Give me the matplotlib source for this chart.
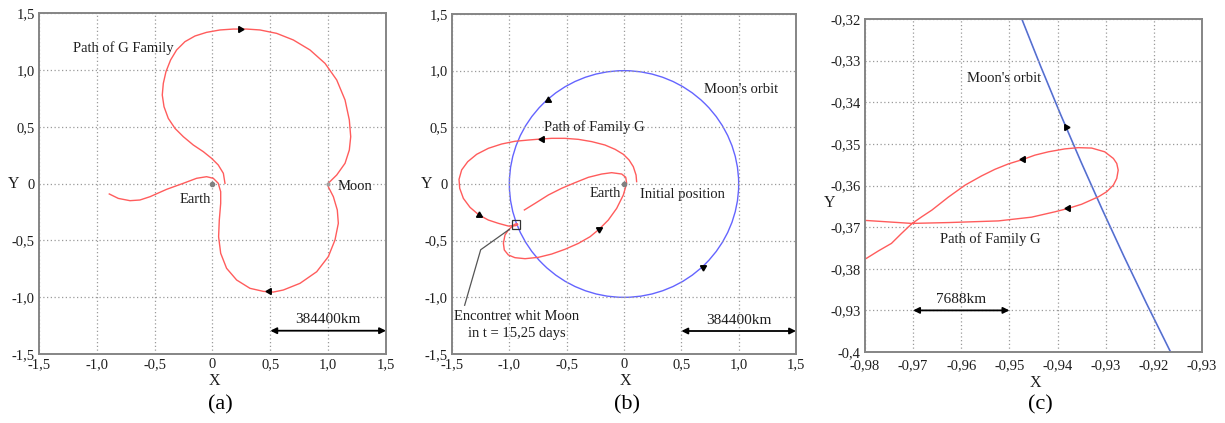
import matplotlib
matplotlib.use("Agg")
import matplotlib.pyplot as plt
from matplotlib.patches import Circle, Rectangle

plt.rcParams["font.family"] = ["Liberation Serif", "DejaVu Serif"]

# ---------------- data ----------------
# (a) path of the G family, normalised Earth-Moon units
path_a_x = [0.108, 0.094, 0.050, -0.007, -0.079, -0.166, -0.252, -0.324, -0.382, -0.419,
            -0.434, -0.425, -0.402, -0.362, -0.310, -0.238, -0.151, -0.051, 0.065, 0.180,
            0.295, 0.411, 0.555, 0.699, 0.843, 0.973, 1.074, 1.146, 1.183, 1.195,
            1.183, 1.146, 1.074, 1.001, 1.001, 1.045, 1.079, 1.088, 1.059, 1.001,
            0.901, 0.757, 0.612, 0.526, 0.440, 0.324, 0.209, 0.122, 0.071, 0.053,
            0.059, 0.071, 0.071, 0.050, 0.007, -0.051, -0.137, -0.252, -0.396, -0.540,
            -0.627, -0.713, -0.814, -0.892]
path_a_y = [0.002, 0.090, 0.163, 0.221, 0.280, 0.339, 0.412, 0.485, 0.573, 0.676,
            0.779, 0.881, 0.984, 1.087, 1.175, 1.248, 1.298, 1.330, 1.351, 1.359,
            1.359, 1.351, 1.321, 1.263, 1.175, 1.057, 0.911, 0.735, 0.559, 0.412,
            0.295, 0.178, 0.075, 0.002, -0.028, -0.116, -0.233, -0.350, -0.497, -0.644,
            -0.776, -0.878, -0.937, -0.955, -0.949, -0.922, -0.849, -0.746, -0.614, -0.468,
            -0.321, -0.175, -0.072, 0.002, 0.046, 0.060, 0.046, 0.002, -0.051, -0.116,
            -0.145, -0.151, -0.131, -0.092]
arrows_a = [(0.24, 1.36, 0), (0.49, -0.946, 180)]

# close approach with the Moon (detail of the encounter, panel c)
enc_x = [-0.9797, -0.9703, -0.9627, -0.9523, -0.9454, -0.9405, -0.9378, -0.9350, -0.9315,
         -0.9298, -0.9284, -0.9277, -0.9274, -0.9277, -0.9284, -0.9302, -0.9329, -0.9357,
         -0.9385, -0.9419, -0.9447, -0.9471, -0.9502, -0.9530, -0.9558, -0.9592, -0.9627,
         -0.9661, -0.9682, -0.9703, -0.9724, -0.9745, -0.9772, -0.9797]
enc_y = [-0.3684, -0.3691, -0.3689, -0.3685, -0.3676, -0.3663, -0.3655, -0.3645, -0.3627,
         -0.3615, -0.3599, -0.3583, -0.3563, -0.3547, -0.3535, -0.3519, -0.3510, -0.3509,
         -0.3512, -0.3519, -0.3527, -0.3537, -0.3548, -0.3561, -0.3577, -0.3599, -0.3628,
         -0.3659, -0.3675, -0.3692, -0.3715, -0.3739, -0.3757, -0.3775]

# (b) outer loop from the initial position up to the encounter
outer_x = [0.110, 0.105, 0.081, 0.044, -0.006, -0.078, -0.166, -0.282, -0.398, -0.515,
           -0.631, -0.724, -0.834, -0.951, -1.067, -1.183, -1.285, -1.363, -1.416, -1.439,
           -1.433, -1.401, -1.343, -1.264, -1.183, -1.096, -1.009]
outer_y = [0.021, 0.079, 0.153, 0.212, 0.262, 0.306, 0.344, 0.374, 0.394, 0.403,
           0.403, 0.397, 0.388, 0.377, 0.353, 0.315, 0.262, 0.197, 0.124, 0.041,
           -0.038, -0.127, -0.206, -0.274, -0.318, -0.347, -0.371]
# (b) inner loop after the encounter
inner_x = [-1.009, -1.038, -1.052, -1.044, -1.009, -0.951, -0.863, -0.747, -0.631, -0.515,
           -0.398, -0.296, -0.218, -0.137, -0.064, -0.006, 0.023, 0.015, -0.020, -0.108,
           -0.195, -0.311, -0.427, -0.544, -0.660, -0.776, -0.869]
inner_y = [-0.406, -0.450, -0.523, -0.582, -0.626, -0.650, -0.659, -0.647, -0.618, -0.576,
           -0.524, -0.465, -0.400, -0.318, -0.215, -0.097, 0.006, 0.059, 0.088, 0.100,
           0.088, 0.059, 0.012, -0.038, -0.097, -0.171, -0.229]
arrows_b_path = [(-0.714, 0.397, 180), (-1.265, -0.274, 90), (-0.218, -0.40, 270)]
arrows_b_orbit = [(-0.666, 0.741, 90), (0.686, -0.73, 270)]
arrows_c_path = [(-0.9471, -0.3537, 180), (-0.9378, -0.3655, 180)]
arrows_c_orbit = [(-0.9383, -0.3459, 240)]

moon_orbit_radius = 1.0
zoom_box = (-0.98, -0.40, 0.07, 0.08)   # x0, y0, width, height of panel (c)

ticks_ab = [-1.5, -1.0, -0.5, 0.0, 0.5, 1.0, 1.5]
tick_labels_ab = ["-1,5", "-1,0", "-0,5", "0", "0,5", "1,0", "1,5"]
xticks_c = [-0.98, -0.97, -0.96, -0.95, -0.94, -0.93, -0.92, -0.91]
xtick_labels_c = ["-0,98", "-0,97", "-0,96", "-0,95", "-0,94", "-0,93", "-0,92", "-0,93"]
yticks_c = [-0.32, -0.33, -0.34, -0.35, -0.36, -0.37, -0.38, -0.39, -0.40]
ytick_labels_c = ["-0,32", "-0,33", "-0,34", "-0,35", "-0,36", "-0,37", "-0,38", "-0,93", "-0,4"]

# ---------------- style ----------------
RED = "#ff5c5c"
BLUE = "#6464ff"
TXT = "#1e1e1e"
FS = 10.5

fig = plt.figure(figsize=(12.25, 4.23), dpi=100)
ax_a = fig.add_axes([0.0318, 0.1631, 0.2833, 0.8061])
ax_b = fig.add_axes([0.3690, 0.1631, 0.2808, 0.8038])
ax_c = fig.add_axes([0.7061, 0.1678, 0.2751, 0.7872])


def style_axes(ax, xt, xl, yt, yl, ylab_pos, xpad=3):
    ax.set_xlim(xt[0], xt[-1])
    ax.set_ylim(min(yt), max(yt))
    ax.set_xticks(xt)
    ax.set_xticklabels(xl)
    ax.set_yticks(yt)
    ax.set_yticklabels(yl)
    ax.tick_params(length=0, labelsize=FS, labelcolor=TXT, pad=3)
    ax.tick_params(axis="x", pad=xpad)
    ax.grid(True, linestyle=(0, (1, 2)), color="#9a9a9a", linewidth=0.9)
    for s in ax.spines.values():
        s.set_color("#858585")
        s.set_linewidth(1.4)
    ax.set_xlabel("X", fontsize=FS + 1, color=TXT, va="center")
    ax.xaxis.set_label_coords(0.505, -0.079)
    ax.set_ylabel("Y", fontsize=FS + 1, color=TXT, rotation=0, va="center", ha="center")
    ax.yaxis.set_label_coords(ylab_pos[0], ylab_pos[1])


def draw_arrows(ax, arrows, ms=5):
    for x, y, ang in arrows:
        ax.plot([x], [y], marker=(3, 0, ang - 90), color="black", markersize=ms,
                linestyle="none", zorder=5)


def scale_bar(ax, x0, x1, y, label, ty):
    ax.annotate("", xy=(x1, y), xytext=(x0, y),
                arrowprops=dict(arrowstyle="<|-|>", color="black", lw=1.3,
                                mutation_scale=9, shrinkA=0, shrinkB=0))
    ax.text((x0 + x1) / 2, ty, label, fontsize=FS + 0.5, color=TXT, ha="center", va="center")


# ---------------- panel (a) ----------------
style_axes(ax_a, ticks_ab, tick_labels_ab, ticks_ab, tick_labels_ab, (-0.074, 0.5))
ax_a.plot(path_a_x, path_a_y, color=RED, lw=1.0, solid_joinstyle="round")
draw_arrows(ax_a, arrows_a)
ax_a.plot([0.0], [0.0], "o", color="#808080", markersize=3)
ax_a.plot([1.0], [0.0], "o", color="#a0a0a0", markersize=2)
ax_a.text(-0.148, -0.137, "Earth", fontsize=FS, color=TXT, ha="center", va="center")
ax_a.text(1.078, -0.022, "Moon", fontsize=FS, color=TXT, ha="left", va="center")
ax_a.text(-1.209, 1.19, "Path of G Family", fontsize=FS, color=TXT, ha="left", va="center")
scale_bar(ax_a, 0.5, 1.5, -1.295, "384400km", -1.2)

# ---------------- panel (b) ----------------
style_axes(ax_b, ticks_ab, tick_labels_ab, ticks_ab, tick_labels_ab, (-0.0735, 0.5))
ax_b.add_patch(Circle((0, 0), moon_orbit_radius, fill=False, edgecolor=BLUE, lw=1.0))
ax_b.plot(outer_x + enc_x + inner_x, outer_y + enc_y + inner_y, color=RED, lw=1.0,
          solid_joinstyle="round")
draw_arrows(ax_b, arrows_b_path)
draw_arrows(ax_b, arrows_b_orbit)
ax_b.add_patch(Rectangle(zoom_box[:2], zoom_box[2], zoom_box[3], fill=False,
                         edgecolor="#333333", lw=0.9, zorder=6))
ax_b.plot([-1.0, -1.25, -1.39], [-0.40, -0.58, -1.07], color="#555555", lw=0.9)
ax_b.plot([0.0], [0.0], "o", color="#808080", markersize=3)
ax_b.text(-0.297, -0.082, "Earth", fontsize=FS, color=TXT, ha="left", va="center")
ax_b.text(0.139, -0.097, "Initial position", fontsize=FS, color=TXT, ha="left", va="center")
ax_b.text(0.698, 0.835, "Moon's orbit", fontsize=FS, color=TXT, ha="left", va="center")
ax_b.text(-0.695, 0.506, "Path of Family G", fontsize=FS, color=TXT, ha="left", va="center")
ax_b.text(-0.936, -1.165, "Encontrer whit Moon", fontsize=FS, color=TXT, ha="center", va="center")
ax_b.text(-0.936, -1.318, "in t = 15,25 days", fontsize=FS, color=TXT, ha="center", va="center")
scale_bar(ax_b, 0.5, 1.5, -1.297, "384400km", -1.206)

# ---------------- panel (c) ----------------
style_axes(ax_c, xticks_c, xtick_labels_c, yticks_c, ytick_labels_c, (-0.104, 0.448), xpad=5.5)
ax_c.xaxis.set_label_coords(0.507, -0.092)
ax_c.add_patch(Circle((0, 0), moon_orbit_radius, fill=False, edgecolor=BLUE, lw=1.2))
ax_c.add_patch(Circle((0, 0), moon_orbit_radius, fill=False, edgecolor="#3c9c5a", lw=0.5, alpha=0.6))
ax_c.plot(enc_x, enc_y, color=RED, lw=1.0, solid_joinstyle="round")
draw_arrows(ax_c, arrows_c_path)
draw_arrows(ax_c, arrows_c_orbit)
ax_c.text(-0.9589, -0.3344, "Moon's orbit", fontsize=FS, color=TXT, ha="left", va="center")
ax_c.text(-0.9644, -0.3729, "Path of Family G", fontsize=FS, color=TXT, ha="left", va="center")
scale_bar(ax_c, -0.97, -0.95, -0.39, "7688km", -0.3875)

# captions
for xp, cap in [(220, "(a)"), (626.7, "(b)"), (1040.7, "(c)")]:
    fig.text(xp / 1225, 1 - 405 / 423, cap, fontsize=16, color="black", ha="center", va="center")

fig.savefig("out.png", dpi=100)
